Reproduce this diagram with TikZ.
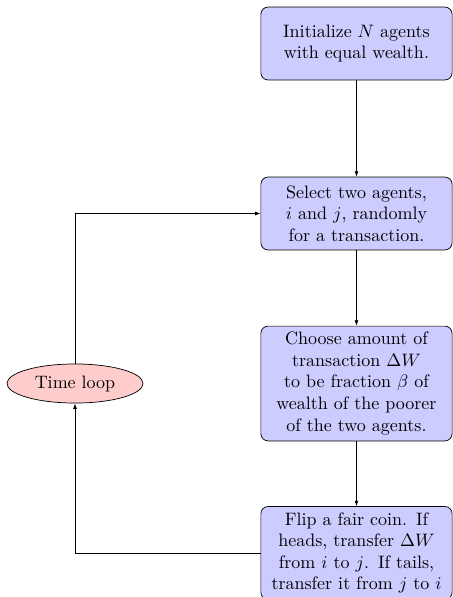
\documentclass[tikz,border=0pt]{standalone}
\usetikzlibrary{shapes.geometric,arrows.meta}
\begin{document}
\begin{tikzpicture}[x=0.5556pt,y=-0.5556pt,
  stepbox/.style={draw, rounded corners=4pt, fill=blue!20, text width=3.5cm, align=center, minimum height=40.5pt},
  loopnode/.style={draw, ellipse, fill=red!20, minimum width=75.6pt, minimum height=21.7pt, inner sep=1pt},
  conn/.style={-{Latex[length=3pt,width=2.2pt]}}]
\useasboundingbox (0,0) rectangle (453,597);
\node[stepbox] (init) at (356.5,43.5) {Initialize $N$ agents with equal wealth.};
\node[stepbox] (select) at (356.5,213.5) {Select two agents, $i$ and $j$, randomly for a transaction.};
\node[stepbox] (choose) at (356.5,383.5) {Choose amount of transaction $\Delta W$ to be fraction $\beta$ of wealth of the poorer of the two agents.};
\node[stepbox] (flip) at (356.5,553) {Flip a fair coin. If heads, transfer $\Delta W$ from $i$ to $j$. If tails, transfer it from $j$ to $i$};
\node[loopnode] (loop) at (75,383.5) {Time loop};
\draw[conn] (init) -- (select);
\draw[conn] (select) -- (choose);
\draw[conn] (choose) -- (flip);
\draw[conn] (flip.west) -| (loop.south);
\draw[conn] (loop.north) |- (select.west);
\end{tikzpicture}
\end{document}
